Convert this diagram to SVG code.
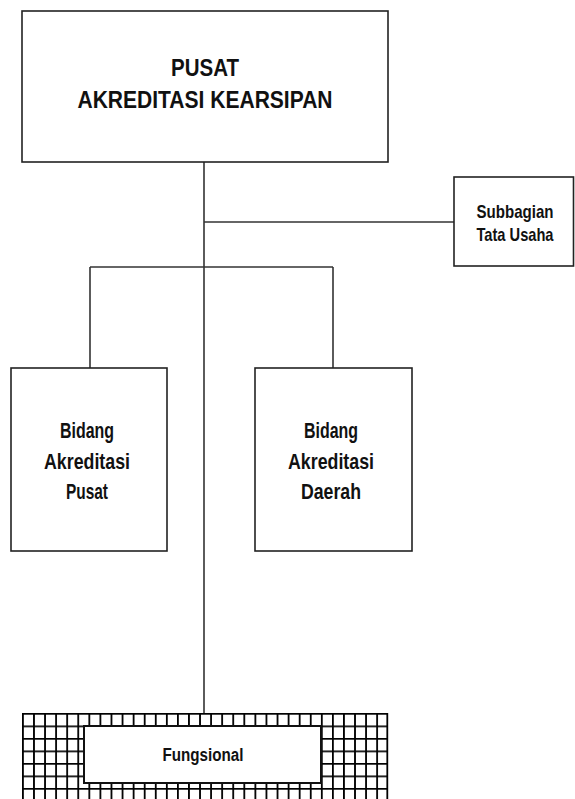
<svg xmlns="http://www.w3.org/2000/svg" width="575" height="799" viewBox="0 0 575 799">
<style>
.box{fill:#fff;stroke:#222;stroke-width:1.6}
.ln{fill:none;stroke:#333;stroke-width:1.6}
.t{font-family:"Liberation Sans",Arial,sans-serif;font-weight:bold;fill:#111;text-anchor:middle}
</style>
<defs>
<pattern id="grid" patternUnits="userSpaceOnUse" x="22" y="713" width="11.07" height="12.5">
<rect width="11.07" height="12.5" fill="#fff"/>
<path d="M0.9 0V12.5M0 0.9H11.07" stroke="#000" stroke-width="1.8" fill="none"/>
</pattern>
</defs>
<rect width="575" height="799" fill="#fff"/>
<g id="connectors">
<path class="ln" d="M204 162V713"/>
<path class="ln" d="M204 222H454"/>
<path class="ln" d="M90 267H333"/>
<path class="ln" d="M90 267V368"/>
<path class="ln" d="M333 267V368"/>
</g>
<g id="pusat">
<rect class="box" x="22" y="11" width="366" height="151"/>
<text class="t" x="205" y="76" font-size="24" textLength="68" lengthAdjust="spacingAndGlyphs">PUSAT</text>
<text class="t" x="205" y="108" font-size="24" textLength="255" lengthAdjust="spacingAndGlyphs">AKREDITASI KEARSIPAN</text>
</g>
<g id="subbagian">
<rect class="box" x="454" y="177" width="119.5" height="89"/>
<text class="t" x="515" y="218" font-size="19" textLength="77" lengthAdjust="spacingAndGlyphs">Subbagian</text>
<text class="t" x="515" y="241" font-size="19" textLength="77" lengthAdjust="spacingAndGlyphs">Tata Usaha</text>
</g>
<g id="bidang-pusat">
<rect class="box" x="11" y="368" width="156" height="183"/>
<text class="t" x="87" y="438" font-size="22" textLength="54" lengthAdjust="spacingAndGlyphs">Bidang</text>
<text class="t" x="87" y="469" font-size="22" textLength="86" lengthAdjust="spacingAndGlyphs">Akreditasi</text>
<text class="t" x="87" y="499" font-size="22" textLength="42" lengthAdjust="spacingAndGlyphs">Pusat</text>
</g>
<g id="bidang-daerah">
<rect class="box" x="255" y="368" width="157" height="183"/>
<text class="t" x="331" y="438" font-size="22" textLength="54" lengthAdjust="spacingAndGlyphs">Bidang</text>
<text class="t" x="331" y="469" font-size="22" textLength="86" lengthAdjust="spacingAndGlyphs">Akreditasi</text>
<text class="t" x="331" y="499" font-size="22" textLength="60" lengthAdjust="spacingAndGlyphs">Daerah</text>
</g>
<g id="fungsional">
<rect x="22" y="713" width="365.3" height="90" fill="url(#grid)"/>
<path d="M387.3 713V799" stroke="#000" stroke-width="1.8"/>
<rect x="84" y="726" width="237" height="57" fill="#fff" stroke="#111" stroke-width="2"/>
<text class="t" x="203" y="761" font-size="18" textLength="81" lengthAdjust="spacingAndGlyphs">Fungsional</text>
</g>
</svg>
